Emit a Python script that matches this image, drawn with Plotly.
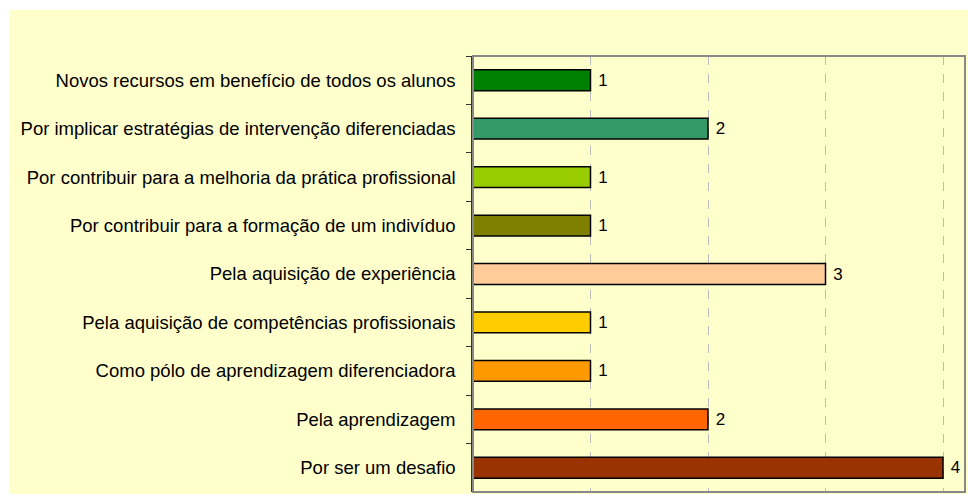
import plotly.graph_objects as go

categories = [
    "Novos recursos em benefício de todos os alunos",
    "Por implicar estratégias de intervenção diferenciadas",
    "Por contribuir para a melhoria da prática profissional",
    "Por contribuir para a formação de um indivíduo",
    "Pela aquisição de experiência",
    "Pela aquisição de competências profissionais",
    "Como pólo de aprendizagem diferenciadora",
    "Pela aprendizagem",
    "Por ser um desafio",
]
values = [1, 2, 1, 1, 3, 1, 1, 2, 4]
colors = ["#008000", "#339966", "#99CC00", "#808000", "#FFCC99",
          "#FFCC00", "#FF9900", "#FF6600", "#993300"]

W, H = 968, 494
ml, mr, mt, mb = 473, 3, 56, 2
pw, ph = W - ml - mr, H - mt - mb

FONT = "Liberation Sans, Arial"

fig = go.Figure(go.Bar(
    x=values, y=categories, orientation="h",
    marker=dict(color=colors, line=dict(color="#000000", width=1.5)),
    width=0.43,
    texttemplate=" %{x}", textposition="outside",
    textfont=dict(family=FONT, size=17, color="#000000"),
    cliponaxis=False,
))

bg = "#FFFFCC"
fig.update_layout(
    width=W, height=H,
    margin=dict(l=ml, r=mr, t=mt, b=mb),
    paper_bgcolor="#FFFFFF", plot_bgcolor=bg,
    showlegend=False,
    font=dict(family=FONT, size=18.5, color="#000000"),
    shapes=[
        dict(type="rect", xref="paper", yref="paper", layer="below",
             x0=(10 - ml) / pw, x1=1.2, y0=-0.2, y1=(H - mb - 10) / ph,
             fillcolor=bg, line=dict(width=0)),
        dict(type="rect", xref="paper", yref="paper", layer="above",
             x0=0, x1=1, y0=0, y1=1, fillcolor="rgba(0,0,0,0)",
             line=dict(color="#888888", width=2)),
    ],
)
fig.update_xaxes(range=[0, pw / 117.5], dtick=1, showticklabels=False,
                 showgrid=True, gridcolor="#BBBBBB", griddash="dash", gridwidth=1,
                 zeroline=False, showline=False, ticks="")
fig.update_yaxes(autorange="reversed", showline=True, linecolor="#333333", linewidth=1.5,
                 ticks="outside", ticklen=5, tickcolor="#333333", tickson="boundaries",
                 showgrid=False, ticklabelstandoff=12)

fig.write_html("out.html", config={"displayModeBar": False},
               post_script="document.body.style.margin='0';document.body.style.overflow='hidden';")
